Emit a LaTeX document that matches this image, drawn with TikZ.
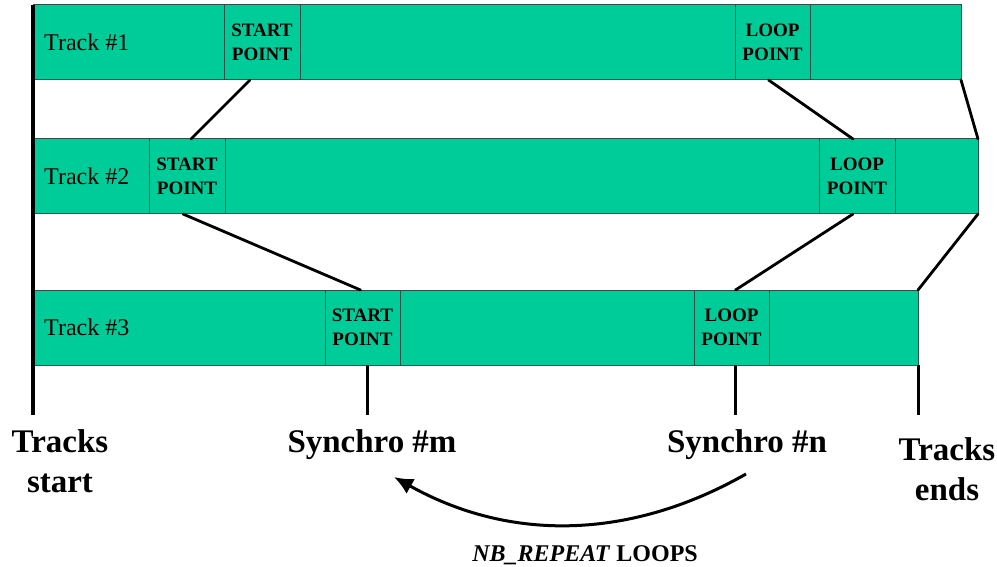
\documentclass[tikz,border=0pt]{standalone}
\usepackage{fontspec}
\setmainfont{Liberation Serif}
\usetikzlibrary{arrows.meta,calc}
\definecolor{trackgreen}{RGB}{0,204,153}
\definecolor{trackedge}{RGB}{45,80,70}
\tikzset{
  seg/.style={draw=trackedge, line width=1pt, fill=trackgreen, anchor=north west,
    minimum height=75pt, inner sep=0pt, outer sep=0pt},
  tracklbl/.style={font=\fontsize{24}{28}\selectfont, anchor=west, inner sep=0pt},
  marker/.style={font=\bfseries\fontsize{19}{24}\selectfont, align=center, inner sep=0pt},
  link/.style={line width=2.8pt, line cap=round},
  tick/.style={line width=3pt},
  biglbl/.style={font=\bfseries\fontsize{33}{40}\selectfont, align=center, anchor=base, inner sep=0pt},
}
\begin{document}
\begin{tikzpicture}[x=1pt, y=-1pt]
\useasboundingbox (0,0) rectangle (997,567);

% Track #1 segments
\node[seg, minimum width=191pt] (t1a) at (33,5) {};
\node[seg, minimum width=76pt]  (t1s) at (224,5) {};
\node[seg, minimum width=435pt] (t1m) at (300,5) {};
\node[seg, minimum width=75pt]  (t1l) at (735,5) {};
\node[seg, minimum width=151pt] (t1e) at (810,5) {};
\node[tracklbl] (t1n) at (44,42.5) {Track \#1};
\node[marker] (t1st) at (t1s.center) {START\\POINT};
\node[marker] (t1lt) at (t1l.center) {LOOP\\POINT};

% Track #2 segments
\node[seg, minimum width=116pt] (t2a) at (33,139) {};
\node[seg, minimum width=76pt]  (t2s) at (149,139) {};
\node[seg, minimum width=594pt] (t2m) at (225,139) {};
\node[seg, minimum width=76pt]  (t2l) at (819,139) {};
\node[seg, minimum width=83pt]  (t2e) at (895,139) {};
\node[tracklbl] (t2n) at (44,176.5) {Track \#2};
\node[marker] (t2st) at (t2s.center) {START\\POINT};
\node[marker] (t2lt) at (t2l.center) {LOOP\\POINT};

% Track #3 segments
\node[seg, minimum width=292pt] (t3a) at (33,290) {};
\node[seg, minimum width=75pt]  (t3s) at (325,290) {};
\node[seg, minimum width=369pt] (t3m) at (400,290) {};
\node[seg, minimum width=75pt]  (t3l) at (694,290) {};
\node[seg, minimum width=149pt] (t3e) at (769,290) {};
\node[tracklbl] (t3n) at (44,327.5) {Track \#3};
\node[marker] (t3st) at (t3s.center) {START\\POINT};
\node[marker] (t3lt) at (t3l.center) {LOOP\\POINT};

% common start of all tracks
\coordinate (origtop) at (33,5);
\coordinate (origbot) at (33,415);
\draw[line width=4pt] (origtop) -- (origbot);

% links between matching points of successive tracks
\draw[link] ([xshift=-12pt]t1s.south) -- ([xshift=4pt]t2s.north);
\draw[link] ([xshift=-4pt]t1l.south) -- ([xshift=-4pt]t2l.north);
\draw[link] (t1e.south east) -- (t2e.north east);
\draw[link] ([xshift=-4pt]t2s.south) -- ([xshift=-2pt]t3s.north);
\draw[link] ([xshift=-4pt]t2l.south) -- ([xshift=4pt]t3l.north);
\draw[link] (t2e.south east) -- (t3e.north east);

% synchro ticks below track #3
\coordinate (sm) at ([xshift=4.5pt]t3s.south |- 0,415);
\coordinate (sn) at ([xshift=3.5pt]t3l.south |- 0,415);
\coordinate (se) at (t3e.south east |- 0,415);
\draw[tick] ([xshift=4.5pt]t3s.south) -- (sm);
\draw[tick] ([xshift=3.5pt]t3l.south) -- (sn);
\draw[tick] (t3e.south east) -- (se);

% labels (base anchor of a two-line node is its last line)
\node[biglbl] (lstart) at (60,492.7) {Tracks\\start};
\node[biglbl] (lm) at (372,452.7) {Synchro \#m};
\node[biglbl] (ln) at (747,452.7) {Synchro \#n};
\node[biglbl] (lend) at (947,500.7) {Tracks\\ends};

% repeat loop arrow
\coordinate (arrfrom) at (746,474);
\coordinate (arrto) at (394,477);
\draw[line width=3pt, -{Latex[length=19pt,width=17pt]}]
  (arrfrom) .. controls (630,540) and (510,542) .. (arrto);
\node[font=\bfseries\fontsize{24}{28}\selectfont, anchor=base, inner sep=0pt] (nb)
  at (585,561.5) {\textit{NB\_REPEAT} LOOPS};
\end{tikzpicture}
\end{document}
